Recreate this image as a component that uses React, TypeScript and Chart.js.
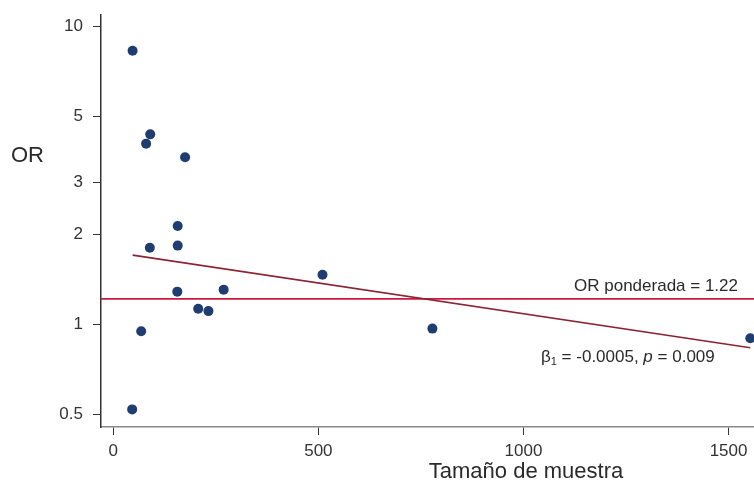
import React, { useEffect, useRef } from "react";
import { Chart, registerables } from "chart.js";

Chart.register(...registerables);

const sampleSize = [47, 90, 80, 175, 157, 89, 157, 156, 269, 207, 232, 68, 46, 510, 778, 1553];
const oddsRatio = [8.27, 4.34, 4.04, 3.64, 2.14, 1.81, 1.84, 1.29, 1.31, 1.13, 1.11, 0.95, 0.52, 1.47, 0.97, 0.9];
const regressionX = [47, 1553];
const regressionY = [1.71, 0.837];
const weightedOR = 1.22;
const xTicks = [0, 500, 1000, 1500];
const yTicks = [0.5, 1, 2, 3, 5, 10];

const FONT = "'Liberation Sans', Arial, sans-serif";

const fullWidthPlugin = {
  id: "fullWidth",
  afterLayout(chart: any) {
    const ca = chart.chartArea;
    const s = chart.scales.x;
    if (chart.width - ca.right > 0) {
      ca.right = chart.width;
      ca.width = ca.right - ca.left;
      s.right = chart.width;
      s.width = s.right - s.left;
      s.configure();
    }
  },
};

const annotationPlugin = {
  id: "annotations",
  beforeDatasetsDraw(chart: any) {
    const { ctx, chartArea, scales } = chart;
    const y = scales.y.getPixelForValue(weightedOR);
    ctx.save();
    ctx.strokeStyle = "#d0173e";
    ctx.lineWidth = 1.6;
    ctx.beginPath();
    ctx.moveTo(chartArea.left, y);
    ctx.lineTo(chartArea.right, y);
    ctx.stroke();
    ctx.restore();
  },
  afterDraw(chart: any) {
    const { ctx, scales } = chart;
    const yRef = scales.y.getPixelForValue(weightedOR);
    ctx.save();
    ctx.fillStyle = "#2a2a2a";
    ctx.textBaseline = "alphabetic";
    ctx.font = `22px ${FONT}`;
    ctx.textAlign = "left";
    ctx.fillText("OR", 11, 162);
    ctx.textAlign = "center";
    ctx.fillText("Tamaño de muestra", 526, 478);
    ctx.font = `17px ${FONT}`;
    ctx.textAlign = "right";
    ctx.fillText(`OR ponderada = ${weightedOR.toFixed(2)}`, 738, yRef - 7.5);
    ctx.textAlign = "left";
    let x = 541;
    const base = 361.5;
    const parts: [string, string, number][] = [
      ["β", `17px ${FONT}`, 0],
      ["1", `11px ${FONT}`, 3],
      [" = -0.0005, ", `17px ${FONT}`, 0],
      ["p", `italic 17px ${FONT}`, 0],
      [" = 0.009", `17px ${FONT}`, 0],
    ];
    for (const [t, f, dy] of parts) {
      ctx.font = f;
      ctx.fillText(t, x, base + dy);
      x += ctx.measureText(t).width;
    }
    ctx.restore();
  },
};

export default function App() {
  const ref = useRef<HTMLCanvasElement>(null);
  useEffect(() => {
    if (!ref.current) return;
    const chart = new Chart(ref.current, {
      type: "scatter",
      data: {
        datasets: [
          {
            type: "line",
            data: regressionX.map((x, i) => ({ x, y: regressionY[i] })),
            borderColor: "#8c2436",
            borderWidth: 1.6,
            pointRadius: 0,
            fill: false,
            order: 2,
          } as any,
          {
            type: "scatter",
            data: sampleSize.map((x, i) => ({ x, y: oddsRatio[i] })),
            backgroundColor: "#1f3d6e",
            borderColor: "#1f3d6e",
            pointRadius: 5,
            pointHoverRadius: 5,
            borderWidth: 0,
            order: 1,
          },
        ],
      },
      options: {
        animation: false,
        responsive: false,
        events: [],
        layout: { padding: { top: 15, left: 0, right: 0, bottom: 0 } },
        plugins: { legend: { display: false }, tooltip: { enabled: false } },
        scales: {
          x: {
            type: "linear",
            min: -30,
            max: 1562,
            afterBuildTicks: (s: any) => {
              s.ticks = xTicks.map((v) => ({ value: v }));
            },
            afterFit: (s: any) => {
              s.height = 53;
              s.paddingLeft = 0;
              s.paddingRight = 0;
            },
            grid: { drawOnChartArea: false, drawTicks: true, tickLength: 8, color: "#333333" },
            border: { display: true, color: "#8a8a8a", width: 1.5 },
            ticks: {
              padding: 6,
              color: "#333333",
              font: { family: FONT, size: 17 },
              callback: (v: any) => String(v),
              maxRotation: 0,
              autoSkip: false,
            },
          },
          y: {
            type: "logarithmic",
            min: 0.454,
            max: 10.9,
            afterBuildTicks: (s: any) => {
              s.ticks = yTicks.map((v) => ({ value: v }));
            },
            afterFit: (s: any) => {
              s.width = 101;
              s.paddingTop = 0;
              s.paddingBottom = 0;
            },
            grid: { drawOnChartArea: false, drawTicks: true, tickLength: 8, color: "#333333" },
            border: { display: true, color: "#333333", width: 1.5 },
            ticks: {
              padding: 10,
              color: "#333333",
              font: { family: FONT, size: 17 },
              callback: (v: any) => String(v),
              autoSkip: false,
            },
          },
        },
      },
      plugins: [fullWidthPlugin, annotationPlugin],
    });
    return () => chart.destroy();
  }, []);
  return (
    <div style={{ position: "absolute", left: 0, top: 0, width: 754, height: 480, background: "#fff" }}>
      <canvas ref={ref} width={754} height={480} style={{ display: "block" }} />
    </div>
  );
}
